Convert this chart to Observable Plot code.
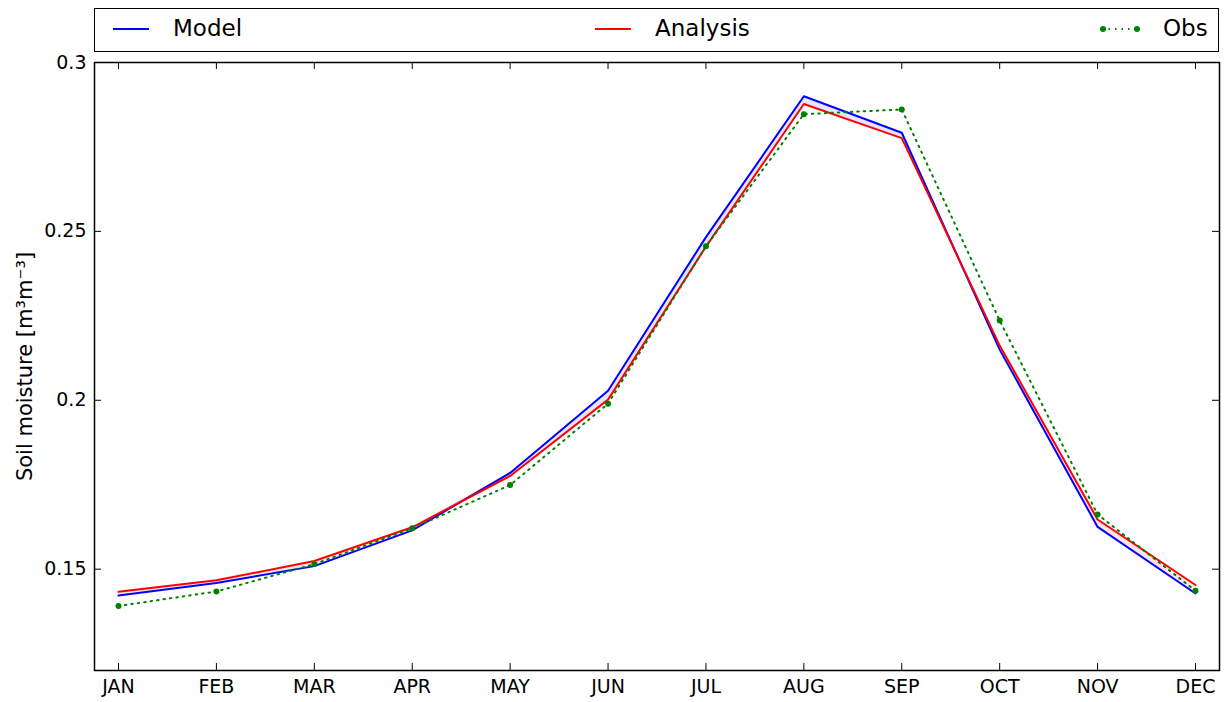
<!DOCTYPE html>
<html><head><meta charset="utf-8">
<script src="https://cdn.jsdelivr.net/npm/d3@7"></script>
<script src="https://cdn.jsdelivr.net/npm/@observablehq/plot@0.6"></script>
<style>
body{margin:0;background:#fff;font-family:"DejaVu Sans",sans-serif;}
#wrap{position:relative;width:1226px;height:702px;overflow:hidden;}
#chart{position:absolute;left:0;top:0;}
#legend{position:absolute;left:94px;top:8px;width:1125px;height:44px;border:1.5px solid #000;box-sizing:border-box;background:#fff;font-size:23px;}
.item{position:absolute;top:0;height:41px;display:flex;align-items:center;}
.item svg{position:absolute;top:13px;}
.item span{position:absolute;white-space:nowrap;line-height:41px;top:-1px;}
</style>
</head><body>
<div id="wrap">
<div id="chart"></div>
<div id="legend"></div>
</div>
<script>
const months = ["JAN","FEB","MAR","APR","MAY","JUN","JUL","AUG","SEP","OCT","NOV","DEC"];
const model    = [0.1422,0.1459,0.1509,0.1615,0.1785,0.2028,0.2483,0.2900,0.2792,0.2150,0.1625,0.1428];
const analysis = [0.1433,0.1467,0.1524,0.1624,0.1776,0.2002,0.2455,0.2877,0.2776,0.2162,0.1647,0.1453];
const obs      = [0.1391,0.1434,0.1515,0.1621,0.1749,0.1990,0.2456,0.2847,0.2861,0.2236,0.1662,0.1436];
const yTicks = [0.15,0.2,0.25,0.3];
const seriesNames = ["Model","Analysis","Obs"];
const seriesColors = ["#0000ff","#ff0000","#008000"];

const data = months.map((m,i)=>({month:m, model:model[i], analysis:analysis[i], obs:obs[i]}));

const W=1226,H=702,mL=94,mR=7,mT=62,mB=32;
const plotW=W-mL-mR, plotH=H-mT-mB;
const tk=7;

const chart = Plot.plot({
  width:W,height:H,marginLeft:mL,marginRight:mR,marginTop:mT,marginBottom:mB,
  style:{fontFamily:"DejaVu Sans",fontSize:"19px",background:"white",color:"black",overflow:"visible"},
  x:{type:"point",domain:months,padding:0.245,round:false},
  y:{domain:[0.12,0.3]},
  marks:[
    Plot.areaY(data,{x:"month",y1:"analysis",y2:d=>Math.max(d.model,d.analysis),fill:seriesColors[0],fillOpacity:0.1}),
    Plot.areaY(data,{x:"month",y1:"model",y2:d=>Math.max(d.model,d.analysis),fill:seriesColors[1],fillOpacity:0.1}),
    Plot.lineY(data,{x:"month",y:"model",stroke:seriesColors[0],strokeWidth:2}),
    Plot.lineY(data,{x:"month",y:"analysis",stroke:seriesColors[1],strokeWidth:2}),
    Plot.lineY(data,{x:"month",y:"obs",stroke:seriesColors[2],strokeWidth:2,strokeDasharray:"1.5,5"}),
    Plot.dot(data,{x:"month",y:"obs",r:3,fill:seriesColors[2],stroke:null}),
    Plot.tickX(months,{x:d=>d,insetTop:plotH-tk,stroke:"black",strokeWidth:1}),
    Plot.tickX(months,{x:d=>d,insetBottom:plotH-tk,stroke:"black",strokeWidth:1}),
    Plot.tickY(yTicks,{y:d=>d,insetRight:plotW-tk,stroke:"black",strokeWidth:1}),
    Plot.tickY(yTicks,{y:d=>d,insetLeft:plotW-tk,stroke:"black",strokeWidth:1}),
    Plot.frame({stroke:"black",strokeWidth:1.5}),
    Plot.axisX({anchor:"bottom",tickSize:0,tickPadding:9,label:null,fontSize:19}),
    Plot.axisY({anchor:"left",ticks:yTicks,tickSize:0,tickPadding:8,fontSize:19,
      tickFormat:d=>String(+d.toFixed(2)),label:null}),
    Plot.axisY({anchor:"left",ticks:[],tickSize:0,fontSize:21,
      label:"Soil moisture [m³m⁻³]",labelAnchor:"center",labelArrow:"none",labelOffset:77})
  ]
});
document.getElementById("chart").appendChild(chart);

// legend
const legend = document.getElementById("legend");
const items = [
  {name:seriesNames[0],color:seriesColors[0],lx:16,tx:78,dots:false},
  {name:seriesNames[1],color:seriesColors[1],lx:498,tx:560,dots:false},
  {name:seriesNames[2],color:seriesColors[2],lx:1005,tx:1068,dots:true}
];
items.forEach(it=>{
  const d=document.createElement("div");
  d.className="item";
  d.style.left="0px";
  const ns="http://www.w3.org/2000/svg";
  const s=document.createElementNS(ns,"svg");
  s.setAttribute("width",40);s.setAttribute("height",14);
  s.style.left=it.lx+"px";
  const l=document.createElementNS(ns,"line");
  l.setAttribute("x1",2);l.setAttribute("x2",38);l.setAttribute("y1",7);l.setAttribute("y2",7);
  l.setAttribute("stroke",it.color);l.setAttribute("stroke-width",2);
  if(it.dots){l.setAttribute("stroke-dasharray","1.5,5");}
  s.appendChild(l);
  if(it.dots){
    [3,37].forEach(cx=>{const c=document.createElementNS(ns,"circle");c.setAttribute("cx",cx);c.setAttribute("cy",7);c.setAttribute("r",3);c.setAttribute("fill",it.color);s.appendChild(c);});
  }
  d.appendChild(s);
  const t=document.createElement("span");
  t.textContent=it.name;t.style.left=it.tx+"px";
  d.appendChild(t);
  legend.appendChild(d);
});
</script>
</body></html>
